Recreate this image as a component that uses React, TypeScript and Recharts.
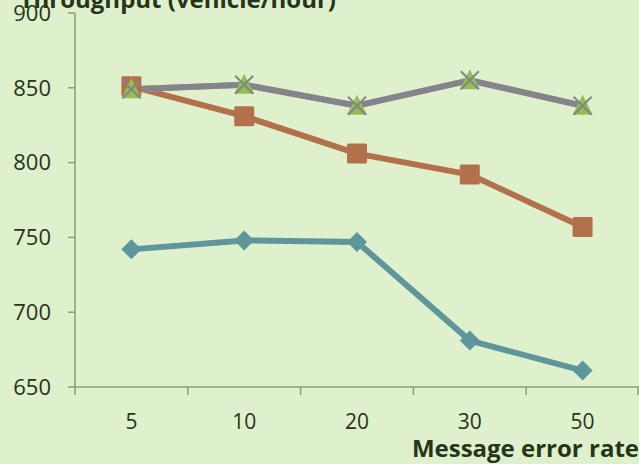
import React from "react";
import { LineChart, Line, XAxis, YAxis } from "recharts";

const errorRates = ["5", "10", "20", "30", "50"];
const seriesA = [742, 748, 747, 681, 661];
const seriesB = [851, 831, 806, 792, 757];
const seriesC = [849, 852, 838, 855, 838];
const seriesD = [849, 852, 838, 855, 838];
const yTicks = [650, 700, 750, 800, 850, 900];

const W = 639;
const H = 464;
const LEFT = 75;
const BG = "#dff0cc";
const AXIS = "#8d9c82";
const TEXT = "#26351a";
const FONT = "'Open Sans', sans-serif";

const data = errorRates.map((r, i) => ({
  rate: r,
  a: seriesA[i],
  b: seriesB[i],
  c: seriesC[i],
  d: seriesD[i],
}));

// category band width, ticks sit on the band edges like Excel
const step = (W - LEFT) / errorRates.length;

function XTick(props: any) {
  const { x, y, payload, index } = props;
  return (
    <g>
      <line x1={x - step / 2} x2={x - step / 2} y1={y - 8} y2={y} stroke={AXIS} strokeWidth={1.5} />
      {index === errorRates.length - 1 && (
        <line x1={x + step / 2 - 1} x2={x + step / 2 - 1} y1={y - 8} y2={y} stroke={AXIS} strokeWidth={1.5} />
      )}
      <text x={x} y={y + 34} textAnchor="middle" fill={TEXT} fontSize={21} fontFamily={FONT}>
        {payload.value}
      </text>
    </g>
  );
}

function diamond(color: string) {
  return (p: any) => (
    <path
      key={`dia-${p.index}`}
      d={`M${p.cx},${p.cy - 10} L${p.cx + 10},${p.cy} L${p.cx},${p.cy + 10} L${p.cx - 10},${p.cy} Z`}
      fill={color}
    />
  );
}

function square(color: string) {
  return (p: any) => (
    <rect key={`sq-${p.index}`} x={p.cx - 10} y={p.cy - 10} width={20} height={20} rx={1.5} fill={color} />
  );
}

function triangle(color: string) {
  return (p: any) => (
    <path
      key={`tri-${p.index}`}
      d={`M${p.cx},${p.cy - 11} L${p.cx + 10},${p.cy + 9} L${p.cx - 10},${p.cy + 9} Z`}
      fill={color}
    />
  );
}

function cross(color: string) {
  return (p: any) => (
    <path
      key={`x-${p.index}`}
      d={`M${p.cx - 9},${p.cy - 9} L${p.cx + 9},${p.cy + 9} M${p.cx + 9},${p.cy - 9} L${p.cx - 9},${p.cy + 9}`}
      stroke={color}
      strokeWidth={2}
      fill="none"
    />
  );
}

export default function App() {
  return (
    <div style={{ position: "absolute", left: 0, top: 0, width: W, height: H, background: BG, overflow: "hidden" }}>
      <LineChart width={W} height={H} data={data} margin={{ top: 13, right: 0, left: 0, bottom: 0 }}>
        <XAxis
          dataKey="rate"
          height={77}
          padding={{ left: step / 2, right: step / 2 }}
          axisLine={{ stroke: AXIS, strokeWidth: 1.5 }}
          tickLine={false}
          tick={<XTick />}
          interval={0}
          label={() => (
            <text x={W} y={457} textAnchor="end" fill={TEXT} fontSize={24} fontWeight={700} fontFamily={FONT}>
              Message error rate
            </text>
          )}
        />
        <YAxis
          width={LEFT}
          domain={[650, 900]}
          ticks={yTicks}
          interval={0}
          tickSize={7}
          tickMargin={17}
          axisLine={{ stroke: AXIS, strokeWidth: 1.5 }}
          tickLine={{ stroke: AXIS, strokeWidth: 1.5 }}
          tick={{ fill: TEXT, fontSize: 22, fontFamily: FONT }}
          label={() => (
            <text x={336} y={8} textAnchor="end" fill={TEXT} fontSize={24} fontWeight={700} fontFamily={FONT}>
              Throughput (vehicle/hour)
            </text>
          )}
        />
        <Line dataKey="a" stroke="#5f959c" strokeWidth={6} dot={diamond("#5f959c")} isAnimationActive={false} />
        <Line dataKey="b" stroke="#b2714b" strokeWidth={6} dot={square("#b2714b")} isAnimationActive={false} />
        <Line dataKey="c" stroke="#92bf52" strokeWidth={6} dot={triangle("#92bf52")} isAnimationActive={false} />
        <Line dataKey="d" stroke="#85838d" strokeWidth={6} dot={cross("#85838d")} isAnimationActive={false} />
      </LineChart>
    </div>
  );
}
